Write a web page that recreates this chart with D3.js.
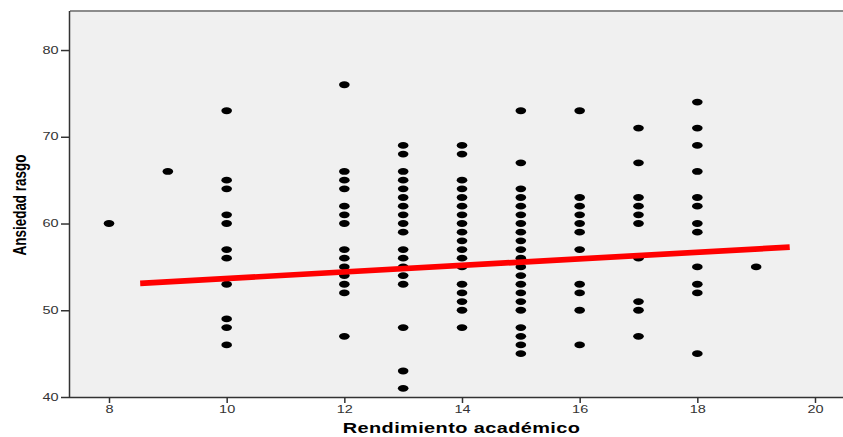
<!DOCTYPE html>
<html>
<head>
<meta charset="utf-8">
<script src="https://d3js.org/d3.v7.min.js"></script>
<style>
  body { margin: 0; background: #fff; }
  svg { display: block; font-family: "Liberation Sans", Arial, sans-serif; }
</style>
</head>
<body>
<svg width="843" height="437"></svg>
<script>
// rendimiento académico (x) and the ansiedad rasgo values seen at each grade
const grades = [8, 9, 10, 12, 13, 14, 15, 16, 17, 18, 19];
const anxietyByGrade = [
    [60],
    [66],
    [73, 65, 64, 61, 60, 57, 56, 53, 49, 48, 46],
    [76, 66, 65, 64, 62, 61, 60, 57, 56, 55, 54, 53, 52, 47],
    [69, 68, 66, 65, 64, 63, 62, 61, 60, 59, 57, 56, 55, 54, 53, 48, 43, 41],
    [69, 68, 65, 64, 63, 62, 61, 60, 59, 58, 57, 56, 55, 53, 52, 51, 50, 48],
    [73, 67, 64, 63, 62, 61, 60, 59, 58, 57, 56, 55, 54, 53, 52, 51, 50, 48, 47, 46, 45],
    [73, 63, 62, 61, 60, 59, 57, 53, 52, 50, 46],
    [71, 67, 63, 62, 61, 60, 56, 51, 50, 47],
    [74, 71, 69, 66, 63, 62, 60, 59, 55, 53, 52, 45],
    [55]
];
const xTicks = [8, 10, 12, 14, 16, 18, 20];
const yTicks = [40, 50, 60, 70, 80];
// linear fit drawn in red
const fitX = [8.53, 19.57];
const fitY = [53.1, 57.28];

const svg = d3.select("svg"),
    stretch = 1.45;

const plot = { left: 70, right: 843, top: 11, bottom: 397 };

const x = d3.scaleLinear()
    .domain([7.337, 20.476])
    .range([plot.left, plot.right]);

const y = d3.scaleLinear()
    .domain([40, 84.5])
    .range([plot.bottom, plot.top]);

const points = [];
grades.forEach(function(g, i) {
    anxietyByGrade[i].forEach(function(v) { points.push({ x: g, y: v }); });
});

drawFrame();
drawAxes();
drawPoints();
drawFit();
drawTitles();

function drawFrame() {
    svg.append("rect")
        .attr("x", plot.left)
        .attr("y", plot.top)
        .attr("width", plot.right - plot.left)
        .attr("height", plot.bottom - plot.top)
        .attr("fill", "#f0f0f0");

    svg.append("line")
        .attr("x1", plot.left).attr("x2", plot.right)
        .attr("y1", plot.top).attr("y2", plot.top)
        .attr("stroke", "#8c8c8c")
        .attr("stroke-width", 2);
}

function drawAxes() {
    const gx = svg.append("g")
        .attr("transform", "translate(0," + plot.bottom + ")")
        .call(d3.axisBottom(x).tickValues(xTicks).tickSize(6).tickPadding(3));
    gx.select(".domain")
        .attr("d", "M" + plot.left + ",0.5H" + plot.right)
        .attr("stroke", "#333")
        .attr("stroke-width", 1.5);
    gx.selectAll(".tick line").attr("stroke", "#333").attr("stroke-width", 1.5);
    gx.selectAll(".tick text")
        .attr("font-size", 10)
        .attr("fill", "#333")
        .attr("transform", "scale(" + stretch + ",1)");

    const gy = svg.append("g")
        .attr("transform", "translate(" + plot.left + ",0)")
        .call(d3.axisLeft(y).tickValues(yTicks).tickSize(9).tickPadding(0));
    gy.select(".domain")
        .attr("d", "M-0.5," + plot.top + "V" + plot.bottom)
        .attr("stroke", "#333")
        .attr("stroke-width", 1.5);
    gy.selectAll(".tick line").attr("stroke", "#333").attr("stroke-width", 1.5);
    gy.selectAll(".tick text")
        .attr("font-size", 10)
        .attr("fill", "#333")
        .attr("x", -11.5 / stretch)
        .attr("transform", "scale(" + stretch + ",1)");
}

function drawPoints() {
    svg.append("g")
        .selectAll("ellipse")
        .data(points)
        .enter().append("ellipse")
        .attr("cx", function(d) { return x(d.x); })
        .attr("cy", function(d) { return y(d.y); })
        .attr("rx", 5.3)
        .attr("ry", 3.4)
        .attr("fill", "#000");
}

function drawFit() {
    const line = d3.line()
        .x(function(d) { return x(d[0]); })
        .y(function(d) { return y(d[1]); });

    svg.append("path")
        .datum(d3.zip(fitX, fitY))
        .attr("d", line)
        .attr("fill", "none")
        .attr("stroke", "#ff0000")
        .attr("stroke-width", 5.7);
}

function drawTitles() {
    svg.append("text")
        .attr("transform", "translate(" + ((plot.left + plot.right) / 2 + 5) + ",433) scale(1.33,1)")
        .attr("text-anchor", "middle")
        .attr("font-size", 15)
        .attr("font-weight", "bold")
        .attr("letter-spacing", 0.3)
        .attr("fill", "#000")
        .text("Rendimiento académico");

    svg.append("text")
        .attr("transform", "translate(26," + 205 + ") scale(1.35,1) rotate(-90)")
        .attr("text-anchor", "middle")
        .attr("font-size", 13.5)
        .attr("font-weight", "bold")
        .attr("fill", "#000")
        .text("Ansiedad rasgo");
}
</script>
</body>
</html>
